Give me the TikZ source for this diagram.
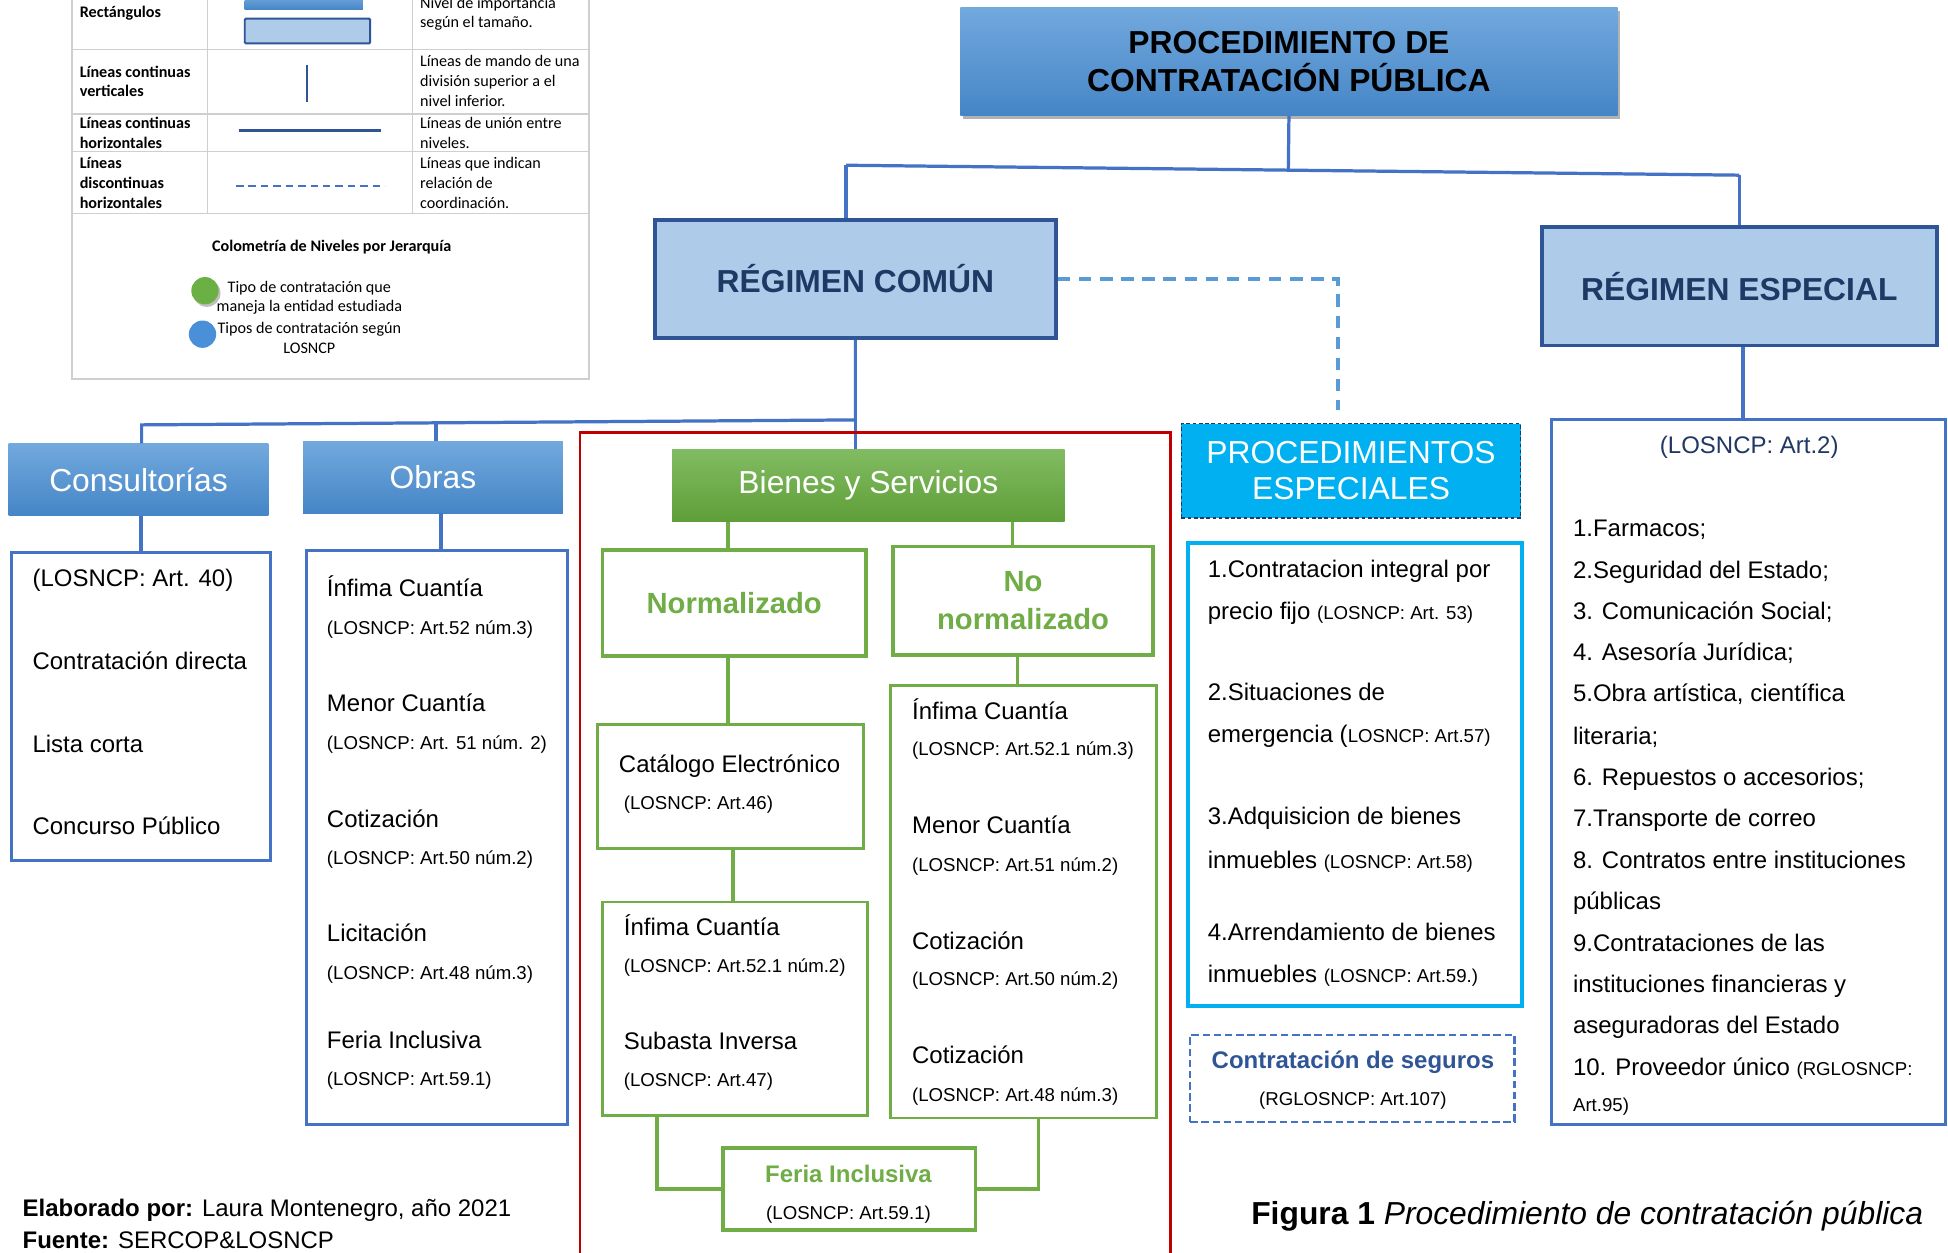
\documentclass[tikz,border=0pt]{standalone}
\usepackage{fontspec}
\setmainfont{Liberation Sans}
\newfontfamily\legendfont{Carlito}
\usetikzlibrary{shadows}

\definecolor{linkblue}{HTML}{4472C4}
\definecolor{dashblue}{HTML}{5B9BD5}
\definecolor{navy}{HTML}{1F3864}
\definecolor{regfill}{HTML}{AFCBEA}
\definecolor{regdraw}{HTML}{2F5597}
\definecolor{topA}{HTML}{72A9DE}
\definecolor{topB}{HTML}{4585C6}
\definecolor{grnA}{HTML}{82BC62}
\definecolor{grnB}{HTML}{5E9E38}
\definecolor{grn}{HTML}{70AD47}
\definecolor{cyanfill}{HTML}{00B0F0}
\definecolor{redline}{HTML}{C00000}
\definecolor{gridgrey}{HTML}{CFCFCF}
\definecolor{legreen}{HTML}{6AB044}
\definecolor{leblue}{HTML}{4A90D9}

\newcommand\fbody{\fontsize{19.3}{23}\selectfont}
\newcommand\frefsz{\fontsize{15}{18}\selectfont}
\newcommand\fbig{\fontsize{25.6}{30}\selectfont}
\newcommand\flegend{\legendfont\fontsize{13}{16}\selectfont}

\tikzset{
  link/.style={draw=linkblue, line width=2.6pt},
  glink/.style={draw=grn, line width=2.8pt},
  coord/.style={draw=dashblue, line width=2.6pt, dash pattern=on 10pt off 7pt},
  titlebox/.style={top color=topA, bottom color=topB, inner sep=0pt, align=center,
    font=\fbig\bfseries, text=black,
    drop shadow={shadow xshift=2pt, shadow yshift=-3pt, opacity=0.3, fill=black}},
  regbox/.style={draw=regdraw, line width=3pt, fill=regfill, text=navy,
    font=\fbig\bfseries, inner sep=0pt},
  bluehead/.style={top color=topA, bottom color=topB, text=white, font=\fbig, inner sep=0pt},
  greenhead/.style={top color=grnA, bottom color=grnB, text=white, font=\fbig, inner sep=0pt},
  gbox/.style={draw=grn, line width=3pt, fill=white, text=grn, font=\fontsize{23.5}{30}\selectfont\bfseries,
    align=center, inner sep=0pt},
  glist/.style={draw=grn, line width=2.2pt, inner sep=0pt},
  blist/.style={draw=linkblue, line width=2.4pt, inner sep=0pt},
  lt/.style={anchor=base west, inner sep=0pt, font=\fbody},
  lr/.style={anchor=base west, inner sep=0pt, font=\frefsz},
  lgb/.style={anchor=base west, inner sep=0pt, font=\flegend\bfseries},
  lgr/.style={anchor=base west, inner sep=0pt, font=\flegend},
  lgc/.style={anchor=base, inner sep=0pt, font=\flegend},
}

\begin{document}
\begin{tikzpicture}[x=1pt,y=-1pt]
\useasboundingbox (0,0) rectangle (1568,1008);
\fill[white] (0,0) rectangle (1568,1008);
\clip (0,0) rectangle (1568,1008);

% ---------- legend table ----------
\begin{scope}[draw=gridgrey, line width=1.3pt]
  \draw (58,-3) -- (58,305) -- (474,305) -- (474,-3);
  \draw (58,40) -- (474,40);
  \draw (58,92) -- (474,92);
  \draw (58,122) -- (474,122);
  \draw (58,172) -- (474,172);
  \draw (167,-3) -- (167,172);
  \draw (332,-3) -- (332,172);
\end{scope}
\fill[top color=topA, bottom color=topB] (197,-4) rectangle (292,8);
\draw[fill=regfill, draw=regdraw, line width=1.6pt, rounded corners=1pt] (197,15) rectangle (298,35);
\draw[draw=regdraw, line width=1.6pt] (247,52) -- (247,82);
\draw[draw=regdraw, line width=2pt] (192,105) -- (307,105);
\draw[draw=linkblue, line width=1.6pt, dash pattern=on 6pt off 4pt] (190,150) -- (310,150);

\node[lgb] (lr1) at (64,14) {Rectángulos};
\node[lgb] (lr2a) at (64,62.5) {Líneas continuas};
\node[lgb] (lr2b) at (64,77.5) {verticales};
\node[lgb] (lr3a) at (64,103.5) {Líneas continuas};
\node[lgb] (lr3b) at (64,119.5) {horizontales};
\node[lgb] (lr4a) at (64,135.5) {Líneas};
\node[lgb] (lr4b) at (64,151.5) {discontinuas};
\node[lgb] (lr4c) at (64,167.5) {horizontales};

\node[lgr] (ld1a) at (338,6.5) {Nivel de importancia};
\node[lgr] (ld1b) at (338,22.5) {según el tamaño.};
\node[lgr] (ld2a) at (338,53.5) {Líneas de mando de una};
\node[lgr] (ld2b) at (338,69.5) {división superior a el};
\node[lgr] (ld2c) at (338,85.5) {nivel inferior.};
\node[lgr] (ld3a) at (338,103.5) {Líneas de unión entre};
\node[lgr] (ld3b) at (338,119.5) {niveles.};
\node[lgr] (ld4a) at (338,135.5) {Líneas que indican};
\node[lgr] (ld4b) at (338,151.5) {relación de};
\node[lgr] (ld4c) at (338,167.5) {coordinación.};

\node[lgc, font=\flegend\bfseries] (lgtitle) at (267,202.5) {Colometría de Niveles por Jerarquía};
\fill[black!25] (166.5,236) circle[radius=11pt];
\fill[legreen] (165,234) circle[radius=11pt];
\fill[leblue] (163,269) circle[radius=11pt];
\node[lgc] (lg1a) at (249,235.5) {Tipo de contratación que};
\node[lgc] (lg1b) at (249,250.5) {maneja la entidad estudiada};
\node[lgc] (lg2a) at (249,268.5) {Tipos de contratación según};
\node[lgc] (lg2b) at (249,284.5) {LOSNCP};

% ---------- top levels ----------
\node[titlebox, minimum width=529pt, minimum height=87pt] (title) at (1037.5,49.5)
  {PROCEDIMIENTO DE\\CONTRATACIÓN PÚBLICA};
\node[regbox, minimum width=323pt, minimum height=95pt] (com) at (688.5,224.5) {RÉGIMEN COMÚN};
\node[regbox, minimum width=318pt, minimum height=95pt] (esp) at (1400,230.5) {RÉGIMEN ESPECIAL};

\coordinate (hubL) at (681,133);
\coordinate (hubM) at (1037,137);
\coordinate (hubR) at (1400,141);
\draw[link] (title.south) -- (hubM);
\draw[link] (hubL) -- (hubR);
\draw[link] (hubL) -- (hubL |- com.north);
\draw[link] (hubR) -- (hubR |- esp.north);

% coordination link to the special procedures
\coordinate (dcorner) at (1077,224.5);
\coordinate (dend) at (1077,330);
\draw[coord] (com.east) -- (dcorner) -- (dend);

% ---------- common regime branches ----------
\node[bluehead, minimum width=209pt, minimum height=58pt] (cons) at (111.5,386) {Consultorías};
\node[bluehead, minimum width=209pt, minimum height=58pt] (obras) at (348.5,384) {Obras};
\node[greenhead, minimum width=316pt, minimum height=58pt] (bienes) at (699,391) {Bienes y Servicios};

\coordinate (hub2R) at (688.5,338);
\coordinate (hub2L) at (114,342);
\coordinate (hub2O) at (351,340.4);
\draw[link] (com.south) -- (hub2R) -- (hub2L) -- (hub2L |- cons.north);
\draw[link] (hub2O) -- (hub2O |- obras.north);
\draw[link] (hub2R) -- (hub2R |- bienes.north);

% Consultorías list
\node[blist, minimum width=209pt, minimum height=248pt] (conslist) at (113.5,569) {};
\draw[link] (conslist.north) -- (conslist.north |- cons.south);
\node[lt] (c1) at (26,472) {(LOSNCP: Art. 40)};
\node[lt] (c2) at (26,539) {Contratación directa};
\node[lt] (c3) at (26,606) {Lista corta};
\node[lt] (c4) at (26,672) {Concurso Público};

% Obras list
\node[blist, minimum width=210pt, minimum height=462pt] (obraslist) at (352,674) {};
\draw[link] ([xshift=3pt]obraslist.north) -- ([xshift=3pt]obraslist.north |- obras.south);
\node[lt] (o1) at (263,480) {Ínfima Cuantía};
\node[lr] (o1r) at (263,510.5) {(LOSNCP: Art.52 núm.3)};
\node[lt] (o2) at (263,573) {Menor Cuantía};
\node[lr] (o2r) at (263,603.5) {(LOSNCP: Art. 51 núm. 2)};
\node[lt] (o3) at (263,666) {Cotización};
\node[lr] (o3r) at (263,695.5) {(LOSNCP: Art.50 núm.2)};
\node[lt] (o4) at (263,758) {Licitación};
\node[lr] (o4r) at (263,788.5) {(LOSNCP: Art.48 núm.3)};
\node[lt] (o5) at (263,844) {Feria Inclusiva};
\node[lr] (o5r) at (263,873.5) {(LOSNCP: Art.59.1)};

% frame around goods and services
\draw[draw=redline, line width=2pt] (467,1020) -- (467,348) -- (942,348) -- (942,1020);

% Goods and services
\node[gbox, minimum width=212pt, minimum height=85pt] (norm) at (591,485.5) {Normalizado};
\node[gbox, minimum width=209pt, minimum height=87pt] (nonorm) at (823.5,483.5) {No\\normalizado};
\draw[glink] ([xshift=-5pt]norm.north) -- ([xshift=-5pt]norm.north |- bienes.south);
\draw[glink] ([xshift=-8.5pt]nonorm.north) -- ([xshift=-8.5pt]nonorm.north |- bienes.south);

\node[glist, minimum width=214pt, minimum height=100pt] (cat) at (588,633) {};
\node[glist, minimum width=213pt, minimum height=172pt] (infn) at (591.5,812) {};
\node[glist, minimum width=214pt, minimum height=348pt] (nnlist) at (824,726) {};
\draw[glink] ([xshift=-5pt]norm.south) -- ([xshift=-5pt]norm.south |- cat.north);
\draw[glink] ([xshift=2pt]cat.south) -- ([xshift=2pt]cat.south |- infn.north);
\draw[glink] ([xshift=-4.5pt]nonorm.south) -- ([xshift=-4.5pt]nonorm.south |- nnlist.north);

\node[lt] (k1) at (498,622) {Catálogo Electrónico};
\node[lr] (k1r) at (502,651.5) {(LOSNCP: Art.46)};
\node[lt] (n1) at (502,753) {Ínfima Cuantía};
\node[lr] (n1r) at (502,782.5) {(LOSNCP: Art.52.1 núm.2)};
\node[lt] (n2) at (502,845) {Subasta Inversa};
\node[lr] (n2r) at (502,874.5) {(LOSNCP: Art.47)};

\node[lt] (m1) at (734,579) {Ínfima Cuantía};
\node[lr] (m1r) at (734,608.5) {(LOSNCP: Art.52.1 núm.3)};
\node[lt] (m2) at (734,671) {Menor Cuantía};
\node[lr] (m2r) at (734,701.5) {(LOSNCP: Art.51 núm.2)};
\node[lt] (m3) at (734,764) {Cotización};
\node[lr] (m3r) at (734,793.5) {(LOSNCP: Art.50 núm.2)};
\node[lt] (m4) at (734,856) {Cotización};
\node[lr] (m4r) at (734,886.5) {(LOSNCP: Art.48 núm.3)};

\node[glist, line width=2.6pt, minimum width=203pt, minimum height=66pt] (feria) at (683.5,957) {};
\node[anchor=base, inner sep=0pt, font=\fontsize{19.3}{23}\selectfont\bfseries, text=grn] (f1) at (683,952) {Feria Inclusiva};
\node[anchor=base, inner sep=0pt, font=\frefsz] (f1r) at (683,981.5) {(LOSNCP: Art.59.1)};
\draw[glink] ([xshift=-62.5pt]infn.south) |- (feria.west);
\draw[glink] ([xshift=12pt]nnlist.south) |- (feria.east);

% ---------- special procedures ----------
\node[fill=cyanfill, draw=navy, line width=1pt, dash pattern=on 3pt off 2pt,
      minimum width=273pt, minimum height=76pt, inner sep=0pt, align=center,
      text=white, font=\fontsize{25.6}{29}\selectfont] (pesp) at (1087.5,379)
  {PROCEDIMIENTOS\\ESPECIALES};
\node[draw=cyanfill, line width=3pt, minimum width=269pt, minimum height=373pt, inner sep=0pt] (plist) at (1090.5,623.5) {};
\node[lt] (p1a) at (972,465) {1.Contratacion integral por};
\node[lt] (p1b) at (972,499) {precio fijo {\frefsz(LOSNCP: Art. 53)}};
\node[lt] (p2a) at (972,564) {2.Situaciones de};
\node[lt] (p2b) at (972,598) {emergencia ({\frefsz LOSNCP: Art.57)}};
\node[lt] (p3a) at (972,664) {3.Adquisicion de bienes};
\node[lt] (p3b) at (972,699) {inmuebles {\frefsz(LOSNCP: Art.58)}};
\node[lt] (p4a) at (972,757) {4.Arrendamiento de bienes};
\node[lt] (p4b) at (972,791) {inmuebles {\frefsz(LOSNCP: Art.59.)}};

\node[draw=linkblue, line width=2pt, dash pattern=on 6pt off 3pt,
      minimum width=261pt, minimum height=70pt, inner sep=0pt] (seg) at (1088.5,868) {};
\node[anchor=base, inner sep=0pt, font=\fontsize{19.3}{23}\selectfont\bfseries, text=regdraw] (s1) at (1089,860) {Contratación de seguros};
\node[anchor=base, inner sep=0pt, font=\frefsz] (s1r) at (1089,889.5) {(RGLOSNCP: Art.107)};

% ---------- special regime list ----------
\node[blist, minimum width=317pt, minimum height=567pt] (esplist) at (1407.5,621.5) {};
\draw[link] ([xshift=3pt]esp.south) -- ([xshift=3pt]esp.south |- esplist.north);
\node[anchor=base, inner sep=0pt, font=\fbody, text=navy] (e0) at (1408,365) {(LOSNCP: Art.2)};
\node[lt] (e1) at (1266,432) {1.Farmacos;};
\node[lt] (e2) at (1266,466) {2.Seguridad del Estado;};
\node[lt] (e3) at (1266,499) {3. Comunicación Social;};
\node[lt] (e4) at (1266,532) {4. Asesoría Jurídica;};
\node[lt] (e5) at (1266,565) {5.Obra artística, científica};
\node[lt] (e5b) at (1266,599) {literaria;};
\node[lt] (e6) at (1266,632) {6. Repuestos o accesorios;};
\node[lt] (e7) at (1266,665) {7.Transporte de correo};
\node[lt] (e8) at (1266,699) {8. Contratos entre instituciones};
\node[lt] (e8b) at (1266,732) {públicas};
\node[lt] (e9) at (1266,766) {9.Contrataciones de las};
\node[lt] (e9b) at (1266,799) {instituciones financieras y};
\node[lt] (e9c) at (1266,832) {aseguradoras del Estado};
\node[lt] (e10) at (1266,866) {10. Proveedor único {\frefsz(RGLOSNCP:}};
\node[lr] (e10b) at (1266,894.5) {Art.95)};

% ---------- footer ----------
\node[lt] (auth) at (18,979) {\textbf{Elaborado por:} Laura Montenegro, año 2021};
\node[lt] (src) at (18,1005) {\textbf{Fuente:} SERCOP\&LOSNCP};
\node[anchor=base west, inner sep=0pt, font=\fbig] (fig) at (1007,986)
  {\textbf{Figura 1} \textit{Procedimiento de contratación pública}};
\end{tikzpicture}
\end{document}
